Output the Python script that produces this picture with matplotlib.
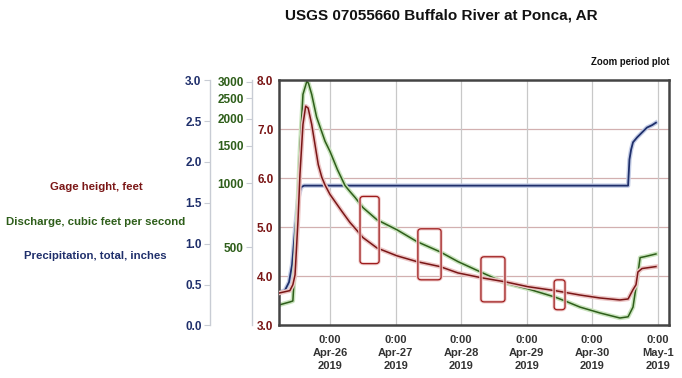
import matplotlib
matplotlib.use("Agg")
import matplotlib.pyplot as plt
import matplotlib.patheffects as pe
from matplotlib.patches import FancyBboxPatch
from matplotlib.ticker import FixedLocator, FixedFormatter, NullLocator

# ---------------- data (x = hours since 2019-04-26 00:00) ----------------
gage_hours = [-18.7, -14.7, -13.6, -12.8, -11.7, -11.0, -9.9, -8.9, -8.0, -6.7, -5.5,
              -4.3, -3.0, -1.8, 0.0, 4.3, 7.3, 9.2, 12.1, 17.2, 24.5, 31.9, 40.3, 46.9,
              55.7, 64.1, 72.5, 82.4, 91.6, 98.9, 106.2, 109.2, 111.0, 112.1, 112.8,
              114.3, 119.4]
gage_ft = [3.66, 3.71, 3.83, 4.03, 5.16, 6.08, 7.10, 7.47, 7.43, 7.10, 6.69,
           6.28, 6.02, 5.86, 5.67, 5.33, 5.10, 4.98, 4.79, 4.58, 4.42, 4.30, 4.20, 4.07,
           3.97, 3.89, 3.79, 3.71, 3.62, 3.56, 3.52, 3.54, 3.73, 3.83, 4.09,
           4.16, 4.20]

q_hours = [-18.7, -14.7, -13.6, -12.5, -11.0, -9.9, -8.5, -7.9, -6.7, -4.9, -1.8,
           0.0, 2.7, 5.5, 7.3, 9.2, 12.1, 17.2, 24.5, 31.9, 40.3, 46.9, 55.7, 64.1, 72.5,
           82.4, 86.1, 91.6, 98.9, 106.2, 109.2, 111.0, 112.5, 113.6, 115.4, 119.4]
q_cfs = [267, 276, 279, 485, 1440, 2610, 3000, 2950, 2610, 2040, 1570,
         1408, 1158, 973, 912, 855, 766, 672, 603, 530, 475, 427, 379, 339, 318,
         291, 279, 261, 245, 232, 235, 261, 351, 446, 451, 464]

p_hours = [-18.7, -16.5, -15.0, -13.9, -12.8, -11.7, -10.6, -9.5, 109.2, 109.7,
           110.3, 111.0, 112.5, 114.3, 116.1, 118.0, 119.4]
p_in = [0.40, 0.43, 0.53, 0.74, 1.17, 1.54, 1.69, 1.71, 1.71, 2.03,
        2.15, 2.24, 2.30, 2.36, 2.42, 2.45, 2.48]

# estimated-value boxes: (start hour, end hour, low ft, high ft)
box_h0 = [11.0, 32.2, 55.3, 82.1]
box_h1 = [18.0, 40.7, 64.1, 86.1]
box_lo = [4.26, 3.93, 3.48, 3.32]
box_hi = [5.63, 4.97, 4.40, 3.93]

day_ticks = [0, 24, 48, 72, 96, 120]
day_labels = ["0:00\nApr-26\n2019", "0:00\nApr-27\n2019", "0:00\nApr-28\n2019",
              "0:00\nApr-29\n2019", "0:00\nApr-30\n2019", "0:00\nMay-1\n2019"]
gage_grid = [4, 5, 6, 7]
gage_ticks = [3.0, 4.0, 5.0, 6.0, 7.0, 8.0]
q_ticks = [500, 1000, 1500, 2000, 2500, 3000]
p_ticks = [0.0, 0.5, 1.0, 1.5, 2.0, 2.5, 3.0]

plt.rcParams["font.family"] = ["Liberation Sans", "DejaVu Sans"]

RED = "#7a1616"
GREEN = "#2e5e1a"
BLUE = "#1f2f6b"
GRAY = "#333333"

fig = plt.figure(figsize=(6.82, 3.78), dpi=100)
axp = fig.add_axes([0.409, 0.139, 0.572, 0.649])   # bottom layer: precip
axq = axp.twinx()                                    # discharge
ax = axp.twinx()                                     # gage height (top)
axp.set_zorder(1)
axq.set_zorder(2)
ax.set_zorder(3)
axq.patch.set_visible(False)
ax.patch.set_visible(False)
axp.patch.set_facecolor("white")

x0, x1 = -18.7, 124.2
axp.set_xlim(x0, x1)
ax.set_ylim(3, 8)
axq.set_yscale("log")
axq.set_ylim(214, 3045)
axp.set_ylim(0, 3)

# grid (drawn in the bottom axes, using gage-height coordinates)
for g in gage_grid:
    axp.plot([x0, x1], [g, g], transform=ax.transData, color="#d2b0b0", lw=0.9, zorder=0)
for d in day_ticks:
    axp.axvline(d, color="#c8c8c8", lw=0.9, zorder=0)

# frame
for s in ax.spines.values():
    s.set_color("#444444")
    s.set_linewidth(1.8)
for a in (axq, axp):
    for s in a.spines.values():
        s.set_visible(False)

# x ticks on precip axes (bottom)
axp.xaxis.set_major_locator(FixedLocator(day_ticks))
axp.xaxis.set_major_formatter(FixedFormatter(day_labels))
axp.tick_params(axis="x", length=0, pad=7, labelsize=8, labelcolor=GRAY)
for t in axp.get_xticklabels():
    t.set_fontweight("bold")
    t.set_linespacing(1.35)

# gage axis labels (left of frame)
ax.yaxis.set_ticks_position("left")
ax.yaxis.set_major_locator(FixedLocator(gage_ticks))
ax.yaxis.set_major_formatter(FixedFormatter([f"{v:.1f}" for v in gage_ticks]))
ax.tick_params(axis="y", length=0, pad=4, labelsize=8.5, labelcolor=RED)
for t in ax.get_yticklabels():
    t.set_fontweight("bold")

# discharge axis
axq.yaxis.set_ticks_position("left")
axq.spines["left"].set_visible(True)
axq.spines["left"].set_position(("axes", -0.069))
axq.spines["left"].set_color("#c8ccd4")
axq.spines["left"].set_linewidth(1.0)
axq.yaxis.set_major_locator(FixedLocator(q_ticks))
axq.yaxis.set_major_formatter(FixedFormatter([str(v) for v in q_ticks]))
axq.yaxis.set_minor_locator(NullLocator())
axq.tick_params(axis="y", which="major", length=4, color="#c8ccd4", pad=2,
                labelsize=8.5, labelcolor=GREEN)
for t in axq.get_yticklabels():
    t.set_fontweight("bold")

# precip axis
axp.yaxis.set_ticks_position("left")
axp.spines["left"].set_visible(True)
axp.spines["left"].set_position(("axes", -0.177))
axp.spines["left"].set_color("#c8ccd4")
axp.spines["left"].set_linewidth(1.0)
axp.yaxis.set_major_locator(FixedLocator(p_ticks))
axp.yaxis.set_major_formatter(FixedFormatter([f"{v:.1f}" for v in p_ticks]))
axp.tick_params(axis="y", length=4, color="#c8ccd4", pad=2, labelsize=8.5, labelcolor=BLUE)
for t in axp.get_yticklabels():
    t.set_fontweight("bold")

# series
def halo(c):
    return [pe.Stroke(linewidth=3.2, foreground=c), pe.Normal()]

axp.plot(p_hours, p_in, color=BLUE, lw=1.3, path_effects=halo("#c4cde6"), zorder=3)
axq.plot(q_hours, q_cfs, color=GREEN, lw=1.1, path_effects=halo("#c9e3bd"), zorder=3)
ax.plot(gage_hours, gage_ft, color=RED, lw=1.1, path_effects=halo("#ecc6c6"), zorder=3)

# boxes
for h0, h1, lo, hi in zip(box_h0, box_h1, box_lo, box_hi):
    bx = FancyBboxPatch((h0, lo), h1 - h0, hi - lo,
                        boxstyle="round,pad=0,rounding_size=1.2",
                        mutation_aspect=0.06 / 1.2,
                        fc="none", ec="#9e1b1b", lw=0.9, zorder=4,
                        path_effects=[pe.Stroke(linewidth=2.4, foreground="#f1d0d0"), pe.Normal()])
    ax.add_patch(bx)

# texts
fig.text(0.647, 0.958, "USGS 07055660 Buffalo River at Ponca, AR", ha="center", va="center",
         fontsize=11, fontweight="bold", color="#111111")
fig.text(0.982, 0.836, "Zoom period plot", ha="right", va="center",
         fontsize=6.9, fontweight="bold", color="#111111")
fig.text(0.141, 0.505, "Gage height, feet", ha="center", va="center",
         fontsize=8.2, fontweight="bold", color=RED)
fig.text(0.140, 0.413, "Discharge, cubic feet per second", ha="center", va="center",
         fontsize=8.2, fontweight="bold", color=GREEN)
fig.text(0.140, 0.323, "Precipitation, total, inches", ha="center", va="center",
         fontsize=8.2, fontweight="bold", color=BLUE)

fig.savefig("out.png", dpi=100)
